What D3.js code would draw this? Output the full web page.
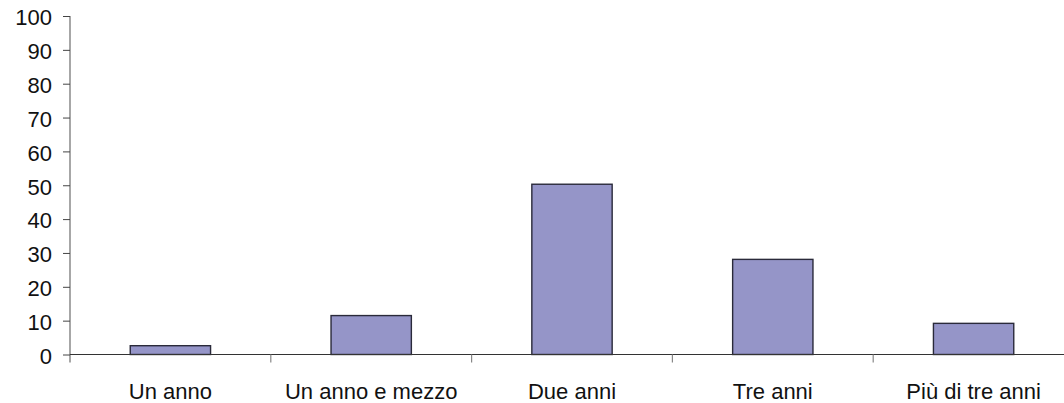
<!DOCTYPE html>
<html>
<head>
<meta charset="utf-8">
<script src="https://cdn.jsdelivr.net/npm/d3@7"></script>
<style>
  html, body { margin: 0; padding: 0; background: #fff; }
  svg { display: block; font-family: "Liberation Sans", Arial, sans-serif; }
</style>
</head>
<body>
<svg id="chart" width="1064" height="403"></svg>
<script>
// Durata (categorie) e percentuali
const categories = ["Un anno", "Un anno e mezzo", "Due anni", "Tre anni", "Più di tre anni"];
const values = [2.6, 11.5, 50.3, 28.1, 9.2];
const yTicks = [0, 10, 20, 30, 40, 50, 60, 70, 80, 90, 100];

const svg = d3.select("#chart");
const plotLeft = 70, plotTop = 16, plotBottom = 354.5;
const bandW = 200.8;
const plotRight = plotLeft + bandW * categories.length;
const fontSize = 22;

const x = d3.scaleBand().domain(categories).range([plotLeft, plotRight]).paddingInner(0).paddingOuter(0);
const y = d3.scaleLinear().domain([0, 100]).range([plotBottom, plotTop]);

// Asse Y
const yAxis = svg.append("g")
  .attr("transform", `translate(${plotLeft},0)`)
  .call(d3.axisLeft(y).tickValues(yTicks).tickSize(7).tickPadding(11));
yAxis.select(".domain").attr("stroke", "#777").attr("stroke-width", 1.3)
  .attr("d", `M0,${plotTop}V${plotBottom + 8}`);
yAxis.selectAll(".tick line").attr("stroke", "#444");
yAxis.selectAll(".tick text")
  .attr("font-size", fontSize)
  .attr("fill", "#111")
  .attr("dy", "0.4em")
  .attr("font-family", "Liberation Sans, Arial, sans-serif");

// Barre
svg.append("g").selectAll("rect")
  .data(values)
  .join("rect")
  .attr("x", (d, i) => x(categories[i]) + x.bandwidth() * 0.3)
  .attr("width", x.bandwidth() * 0.4)
  .attr("y", d => y(d))
  .attr("height", d => y(0) - y(d))
  .attr("fill", "#9595c8")
  .attr("stroke", "#2a2a3a")
  .attr("stroke-width", 1.4);

// Asse X
svg.append("line")
  .attr("x1", plotLeft).attr("x2", 1064)
  .attr("y1", plotBottom).attr("y2", plotBottom)
  .attr("stroke", "#333").attr("stroke-width", 1.2);

svg.append("g").selectAll("line")
  .data(categories.slice(1))
  .join("line")
  .attr("x1", d => x(d)).attr("x2", d => x(d))
  .attr("y1", plotBottom).attr("y2", plotBottom + 8)
  .attr("stroke", "#888").attr("stroke-width", 1.2);

svg.append("g").selectAll("text")
  .data(categories)
  .join("text")
  .attr("x", d => x(d) + x.bandwidth() / 2)
  .attr("y", 398.5)
  .attr("text-anchor", "middle")
  .attr("font-size", fontSize)
  .attr("fill", "#111")
  .text(d => d);
</script>
</body>
</html>
